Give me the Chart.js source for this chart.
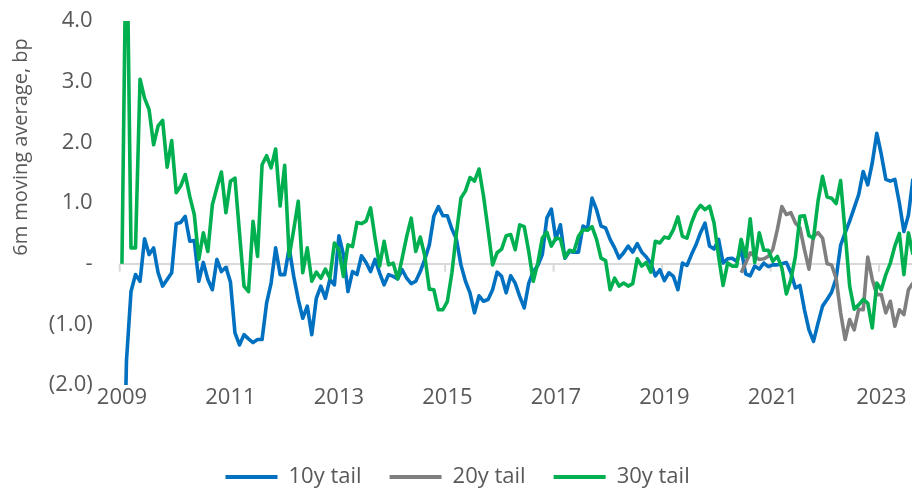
<!DOCTYPE html>
<html>
<head>
<meta charset="utf-8">
<title>Auction tails</title>
<script src="https://cdn.jsdelivr.net/npm/chart.js@4.4.1/dist/chart.umd.min.js"></script>
<style>
  html, body { margin: 0; padding: 0; background: #fff; overflow: hidden; }
  #chartBox { position: relative; width: 924px; height: 488px; }
</style>
</head>
<body>
<div id="chartBox"><canvas id="tailChart"></canvas></div>
<script>
// monthly points, Jan 2009 .. Aug 2023
var startYear = 2009;
var monthCount = 176;
var tickYears = ['2009', '2011', '2013', '2015', '2017', '2019', '2021', '2023'];

var yTickValues = [-2, -1, 0, 1, 2, 3, 4];
var yTickText = ['(2.0)', '(1.0)', '-', '1.0', '2.0', '3.0', '4.0'];

// 6m moving averages, bp (one row per year)
var tenYear = [
    -5, -1.6, -0.46, -0.18, -0.29, 0.41, 0.15, 0.26, -0.15, -0.37, -0.26, -0.15,
    0.66, 0.68, 0.78, 0.37, 0.38, -0.29, 0.02, -0.26, -0.43, 0.07, -0.13, -0.06,
    -0.3, -1.14, -1.34, -1.17, -1.24, -1.3, -1.25, -1.25, -0.65, -0.32, 0.26, -0.18,
    -0.18, 0.26, -0.21, -0.59, -0.9, -0.7, -1.17, -0.57, -0.37, -0.57, -0.26, -0.35,
    0.46, 0.15, -0.46, -0.13, -0.18, 0.13, 0.02, -0.13, 0.07, -0.15, -0.35, -0.18,
    -0.21, -0.25, -0.1, -0.24, -0.33, -0.29, -0.13, 0.07, 0.31, 0.78, 0.94, 0.79,
    0.79, 0.57, 0.4, -0.02, -0.29, -0.48, -0.81, -0.53, -0.62, -0.59, -0.43, -0.14,
    -0.21, -0.48, -0.2, -0.32, -0.54, -0.73, -0.32, -0.13, -0.03, 0.15, 0.75, 0.9,
    0.4, 0.64, 0.09, 0.2, 0.19, 0.19, 0.62, 0.57, 1.08, 0.89, 0.62, 0.59,
    0.4, 0.26, 0.09, 0.18, 0.29, 0.19, 0.33, 0.19, 0.11, 0.01, -0.2, -0.1,
    -0.28, -0.15, -0.21, -0.43, 0.01, -0.03, 0.15, 0.31, 0.51, 0.67, 0.29, 0.24,
    0.4, 0.01, 0.08, 0.09, 0.04, 0.23, -0.17, -0.2, -0.04, -0.09, 0.01, -0.05,
    -0.02, -0.02, 0.0, 0.02, -0.15, -0.4, -0.36, -0.76, -1.09, -1.28, -0.98, -0.7,
    -0.59, -0.47, -0.24, 0.3, 0.51, 0.7, 0.92, 1.14, 1.52, 1.3, 1.66, 2.15,
    1.8, 1.39, 1.36, 1.39, 1.0, 0.53, 0.8, 1.4
];

var twentyYear = [
    null, null, null, null, null, null, null, null, null, null, null, null,
    null, null, null, null, null, null, null, null, null, null, null, null,
    null, null, null, null, null, null, null, null, null, null, null, null,
    null, null, null, null, null, null, null, null, null, null, null, null,
    null, null, null, null, null, null, null, null, null, null, null, null,
    null, null, null, null, null, null, null, null, null, null, null, null,
    null, null, null, null, null, null, null, null, null, null, null, null,
    null, null, null, null, null, null, null, null, null, null, null, null,
    null, null, null, null, null, null, null, null, null, null, null, null,
    null, null, null, null, null, null, null, null, null, null, null, null,
    null, null, null, null, null, null, null, null, null, null, null, null,
    null, null, null, null, null, -0.15, 0.01, 0.18, 0.12, 0.07, 0.08, 0.12,
    0.24, 0.56, 0.94, 0.81, 0.84, 0.67, 0.59, 0.23, -0.09, 0.45, 0.51, 0.42,
    0.0, -0.02, -0.24, -0.81, -1.25, -0.92, -1.09, -0.75, -0.76, 0.11, -0.26, -0.51,
    -0.51, -0.81, -0.62, -1.03, -0.76, -0.84, -0.43, -0.32
];

var thirtyYear = [
    0, 6, 0.26, 0.26, 3.04, 2.73, 2.54, 1.96, 2.27, 2.36, 1.59, 2.03,
    1.17, 1.28, 1.47, 1.11, 0.81, 0.07, 0.51, 0.2, 0.97, 1.25, 1.51, 0.84,
    1.36, 1.41, 0.51, -0.37, -0.46, 0.7, 0.12, 1.63, 1.78, 1.58, 1.89, 0.95,
    1.62, 0.12, 0.56, 1.03, -0.15, 0.26, -0.29, -0.14, -0.24, -0.09, -0.24, 0.34,
    0.23, -0.21, 0.31, 0.28, 0.68, 0.66, 0.7, 0.92, 0.42, -0.04, 0.37, -0.02,
    0.01, -0.25, 0.09, 0.45, 0.75, 0.2, 0.44, 0.13, -0.42, -0.43, -0.76, -0.76,
    -0.62, -0.15, 0.5, 1.08, 1.2, 1.42, 1.36, 1.56, 1.11, 0.56, -0.02, 0.18,
    0.24, 0.46, 0.48, 0.23, 0.64, 0.61, 0.2, -0.29, 0.01, 0.42, 0.52, 0.29,
    0.42, 0.41, 0.1, 0.22, 0.2, 0.45, 0.56, 0.55, 0.61, 0.4, 0.09, 0.05,
    -0.43, -0.24, -0.37, -0.32, -0.37, -0.33, 0.08, -0.04, 0.02, -0.14, 0.37, 0.34,
    0.44, 0.42, 0.56, 0.77, 0.45, 0.42, 0.67, 0.86, 0.96, 0.89, 0.95, 0.67,
    0.12, -0.36, 0.01, -0.04, -0.04, 0.4, 0.11, 0.74, 0.02, 0.51, 0.22, 0.22,
    0.04, 0.12, -0.07, -0.5, -0.26, 0.12, 0.78, 0.79, 0.46, 0.42, 1.03, 1.44,
    1.1, 1.08, 0.99, 1.37, 0.51, -0.37, -0.75, -0.68, -0.59, -0.65, -1.06, -0.32,
    -0.43, -0.18, 0.01, 0.29, 0.5, -0.18, 0.51, 0.15
];

var months = [];
for (var i = 0; i < monthCount; i++) {
    var yr = startYear + Math.floor(i / 12);
    var mo = (i % 12) + 1;
    months.push(yr + '-' + (mo < 10 ? '0' + mo : mo));
}

function isTickMonth(label) {
    return label.slice(5) === '01' && tickYears.indexOf(label.slice(0, 4)) >= 0;
}

var textColor = '#595959';
var fontFamily = '"Open Sans", "Noto Sans", sans-serif';

// tick marks on the zero line + y axis title (sits above centre in the original)
var axisExtras = {
    id: 'axisExtras',
    beforeDatasetsDraw: function (chart) {
        var ctx = chart.ctx;
        var xs = chart.scales.x;
        var zeroY = chart.scales.y.getPixelForValue(0);
        var slot = xs.getPixelForValue(1) - xs.getPixelForValue(0);
        ctx.save();
        ctx.strokeStyle = '#d9d9d9';
        ctx.lineWidth = 2;
        months.forEach(function (label, idx) {
            if (isTickMonth(label)) {
                var x = xs.getPixelForValue(idx) - slot / 2;
                ctx.beginPath();
                ctx.moveTo(x, zeroY);
                ctx.lineTo(x, zeroY + 8);
                ctx.stroke();
            }
        });
        ctx.restore();
    },
    afterDraw: function (chart) {
        var ctx = chart.ctx;
        ctx.save();
        ctx.translate(21, 147);
        ctx.rotate(-Math.PI / 2);
        ctx.fillStyle = textColor;
        ctx.font = '20px ' + fontFamily;
        ctx.textAlign = 'center';
        ctx.textBaseline = 'middle';
        ctx.fillText('6m moving average, bp', 0, 0);
        ctx.restore();
    }
};

var ctx = document.getElementById('tailChart').getContext('2d');
var tailChart = new Chart(ctx, {
    type: 'line',
    data: {
        labels: months,
        datasets: [
            { label: '10y tail', data: tenYear, borderColor: '#0070C0', backgroundColor: '#0070C0', order: 3 },
            { label: '20y tail', data: twentyYear, borderColor: '#7F7F7F', backgroundColor: '#7F7F7F', order: 2 },
            { label: '30y tail', data: thirtyYear, borderColor: '#00B050', backgroundColor: '#00B050', order: 1 }
        ]
    },
    options: {
        responsive: true,
        maintainAspectRatio: false,
        animation: false,
        layout: { padding: { left: 0, right: 8.8, top: 21, bottom: -10 } },
        elements: {
            line: { borderWidth: 3.6, tension: 0, borderJoinStyle: 'round', fill: false },
            point: { radius: 0, hoverRadius: 0 }
        },
        scales: {
            x: {
                type: 'category',
                offset: true,
                grid: { display: false, offset: true },
                border: { display: false },
                ticks: {
                    autoSkip: false,
                    maxRotation: 0,
                    minRotation: 0,
                    padding: -8,
                    color: textColor,
                    font: { family: fontFamily, size: 22 },
                    callback: function (val, idx) {
                        var label = months[idx];
                        return isTickMonth(label) ? label.slice(0, 4) : null;
                    }
                },
                afterFit: function (scale) { scale.height = 53; }
            },
            y: {
                min: -2,
                max: 4,
                border: { display: false },
                grid: {
                    drawTicks: false,
                    lineWidth: 2,
                    color: function (c) { return c.tick && c.tick.value === 0 ? '#d9d9d9' : 'rgba(0,0,0,0)'; }
                },
                ticks: {
                    stepSize: 1,
                    padding: 27,
                    color: textColor,
                    font: { family: fontFamily, size: 22 },
                    callback: function (v) {
                        var k = yTickValues.indexOf(v);
                        return k >= 0 ? yTickText[k] : '';
                    }
                },
                afterFit: function (scale) {
                    // keep the wide label gap without it pushing the plot down
                    scale.width = 119.7;
                    scale.paddingTop = 13;
                    scale.paddingBottom = 13;
                }
            }
        },
        plugins: {
            legend: {
                position: 'bottom',
                labels: {
                    color: textColor,
                    font: { family: fontFamily, size: 22 },
                    boxWidth: 52,
                    boxHeight: 4,
                    padding: 28,
                    sort: function (a, b) { return a.datasetIndex - b.datasetIndex; },
                    generateLabels: function (chart) {
                        var items = Chart.defaults.plugins.legend.labels.generateLabels(chart);
                        items.forEach(function (it) { it.lineWidth = 0; });
                        return items;
                    }
                }
            },
            tooltip: { enabled: false }
        }
    },
    plugins: [axisExtras]
});
</script>
</body>
</html>
